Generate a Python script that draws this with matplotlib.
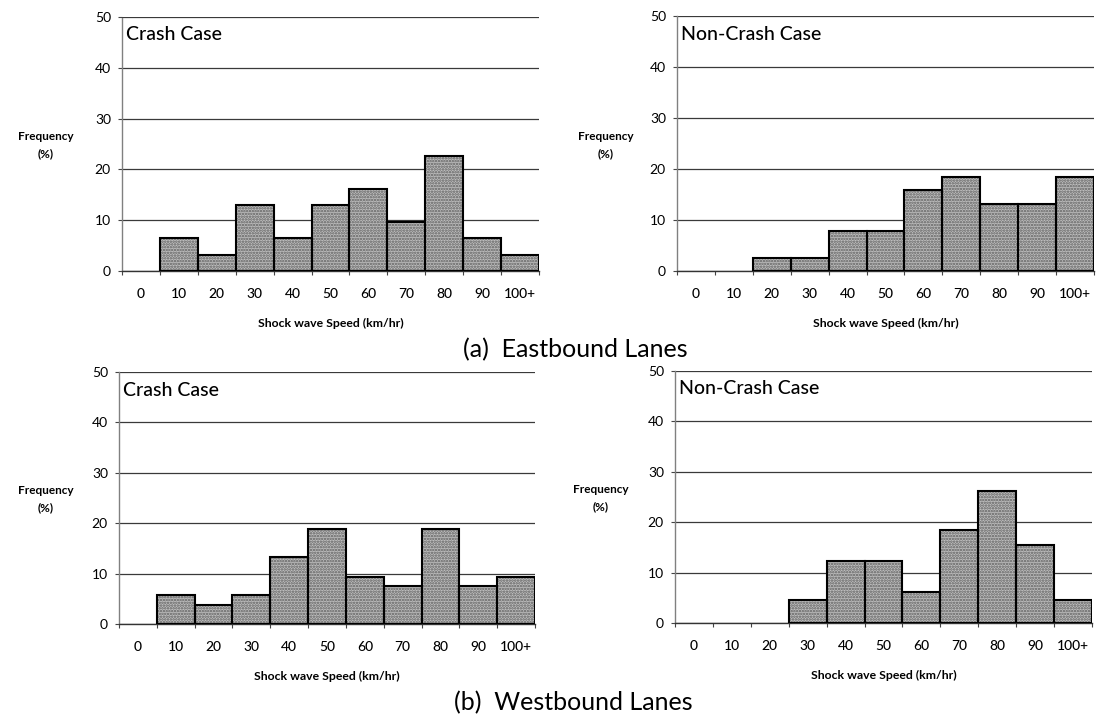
import matplotlib.pyplot as plt
import numpy as np

plt.rcParams['font.family'] = ['Lato', 'DejaVu Sans']
plt.rcParams['hatch.linewidth'] = 1.2

W, H = 1096, 718

categories = ['0', '10', '20', '30', '40', '50', '60', '70', '80', '90', '100+']

# frequency (%) of shock wave speeds per 10 km/hr bin
eb_crash = [0, 6.5, 3.2, 12.9, 6.5, 12.9, 16.1, 9.7, 22.6, 6.5, 3.2]
eb_noncrash = [0, 0, 2.6, 2.6, 7.9, 7.9, 15.8, 18.4, 13.2, 13.2, 18.4]
wb_crash = [0, 5.7, 3.8, 5.7, 13.2, 18.9, 9.4, 7.5, 18.9, 7.5, 9.4]
wb_noncrash = [0, 0, 0, 4.6, 12.3, 12.3, 6.2, 18.5, 26.2, 15.4, 4.6]

panels = [
    # values, title, (left, top, right, bottom) in px, ylabel centre
    (eb_crash, 'Crash Case', (122, 17, 539, 271), (46, 145)),
    (eb_noncrash, 'Non-Crash Case', (677, 16, 1094, 271), (606, 145)),
    (wb_crash, 'Crash Case', (119, 372, 535, 624), (46, 499)),
    (wb_noncrash, 'Non-Crash Case', (675, 371, 1092, 623), (601, 498)),
]


def fx(x):
    return x / W


def fy(y):
    return 1 - y / H


fig = plt.figure(figsize=(W / 100, H / 100), dpi=100)

for values, title, (l, t, r, b), (lx, ly) in panels:
    ax = fig.add_axes([fx(l), fy(b), (r - l) / W, (b - t) / H])
    x = np.arange(len(categories))
    vals = np.array(values, dtype=float)
    keep = vals > 0
    # stippled fill first, then the black outlines on top
    ax.bar(x[keep], vals[keep], width=1.0, color='#bebebe', hatch='......',
           edgecolor='#5e5e5e', linewidth=0, zorder=2)
    ax.bar(x[keep], vals[keep], width=1.0, fill=False, edgecolor='black',
           linewidth=1.5, zorder=3)

    ax.set_xlim(-0.5, len(categories) - 0.5)
    ax.set_ylim(0, 50)
    ax.set_yticks([0, 10, 20, 30, 40, 50])
    ax.yaxis.grid(True, color='#3a3a3a', linewidth=0.9)
    ax.set_axisbelow(True)

    ax.set_xticks(x)
    ax.set_xticklabels(categories, fontweight='medium')
    ax.set_xticks(np.arange(len(categories) + 1) - 0.5, minor=True)
    ax.tick_params(axis='x', which='major', length=0, pad=12, labelsize=10)
    ax.tick_params(axis='x', which='minor', length=3, width=0.8,
                   color='#444444', direction='out')
    ax.tick_params(axis='y', length=3, width=0.8, color='#444444',
                   pad=5, labelsize=10)

    for side in ['top', 'right']:
        ax.spines[side].set_visible(False)
    ax.spines['left'].set_color('#808080')
    ax.spines['left'].set_linestyle((0, (2, 1)))
    ax.spines['left'].set_linewidth(1.0)
    ax.spines['bottom'].set_color('#333333')
    ax.spines['bottom'].set_linewidth(1.0)

    fig.text(fx(l + 4), fy(t + 18), title, fontsize=14, fontweight='medium',
             ha='left', va='center')

    fig.text(fx(lx), fy(ly), 'Frequency\n(%)', ha='center', va='center',
             fontsize=8.5, fontweight='bold', linespacing=1.6)
    fig.text(fx((l + r) / 2), fy(b + 52), 'Shock wave Speed (km/hr)',
             ha='center', va='center', fontsize=8.8, fontweight='bold')

fig.text(fx(575), fy(350), '(a)  Eastbound Lanes', ha='center', va='center',
         fontsize=18)
fig.text(fx(573), fy(703), '(b)  Westbound Lanes', ha='center', va='center',
         fontsize=18)

fig.savefig('out.png', dpi=100, facecolor='white')
